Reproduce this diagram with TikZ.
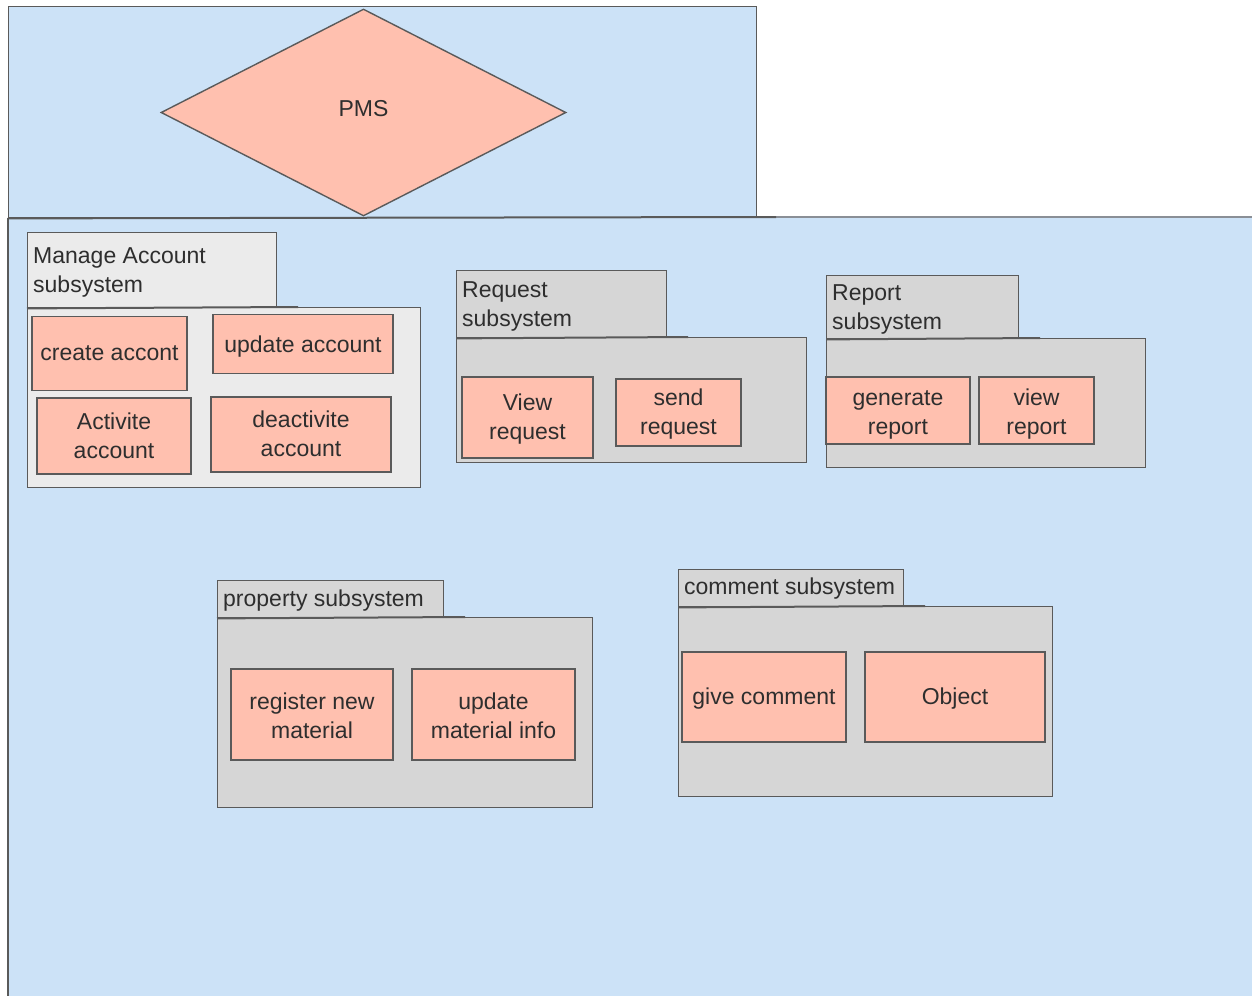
\documentclass[tikz,border=0pt]{standalone}
\usepackage{fontspec}
\setmainfont{Liberation Sans}
\usetikzlibrary{shapes.geometric}
\definecolor{sysblue}{HTML}{CCE2F7}
\definecolor{salmon}{HTML}{FFC0AF}
\definecolor{pkggray}{HTML}{D6D6D6}
\definecolor{pkglight}{HTML}{EBEBEB}
\definecolor{linec}{HTML}{5A5A5A}
\definecolor{linelight}{HTML}{8A8F96}
\definecolor{textc}{HTML}{2E2E2E}
% shift a centred text block vertically without changing its box
\newcommand\lowered[2]{\raisebox{-#1}[\height][\depth]{\begin{tabular}{@{}c@{}}#2\end{tabular}}}
\tikzset{
  border/.style={draw=linec, line width=1.4pt},
  pkgpart/.style={border, fill=pkggray, inner sep=0pt, anchor=north west},
  item/.style={border, fill=salmon, text=textc, align=center, inner sep=0pt},
  tablabel/.style={text=textc, align=left, anchor=west, inner sep=0pt},
  tabedge/.style={draw=linec, line width=2pt},
}
\begin{document}
\begin{tikzpicture}[x=1pt, y=-1pt, font=\fontsize{23}{29}\selectfont]
\useasboundingbox (0,0) rectangle (1252,996);

% outer system package
\path[fill=sysblue] (8,217) rectangle (1252,996);
\node[border, fill=sysblue, anchor=north west, inner sep=0pt,
      minimum width=748pt, minimum height=211pt] (systab) at (8,6) {};
\coordinate (sysbl) at (8,996);
\coordinate (sysend) at (1252,217);
\coordinate (sysext) at (776,217);
\draw[draw=linelight, line width=1.6pt] (sysext) -- (sysend);
\draw[tabedge] (systab.south west) -- (sysext);
\draw[border] (systab.south west) -- (sysbl);
\node[diamond, border, fill=salmon, text=textc, inner sep=0pt,
      minimum width=405pt, minimum height=207pt] (pms) at (363.5,112.5) {\lowered{-2pt}{PMS}};

% Manage Account subsystem
\node[pkgpart, fill=pkglight, minimum width=393pt, minimum height=180pt] (macc) at (27,307) {};
\node[pkgpart, fill=pkglight, minimum width=249pt, minimum height=75pt] (mtab) at (27,232) {};
\coordinate (mext) at (298,307);
\draw[tabedge] (mtab.south west) -- (mext);
\node[tablabel] (mlab) at (33,272) {Manage Account\\subsystem};
\node[item, minimum width=155pt, minimum height=74pt] (create) at (109.5,353.5) {\lowered{1pt}{create accont}};
\node[item, minimum width=180pt, minimum height=59pt] (upd) at (303,344) {\lowered{2.5pt}{update account}};
\node[item, minimum width=154pt, minimum height=76pt] (act) at (114,436) {\lowered{2.5pt}{Activite\\account}};
\node[item, minimum width=180pt, minimum height=75pt] (deact) at (301,434.5) {\lowered{2pt}{deactivite\\account}};

% Request subsystem
\node[pkgpart, minimum width=350pt, minimum height=125pt] (req) at (456,337) {};
\node[pkgpart, minimum width=210pt, minimum height=67pt] (rtab) at (456,270) {};
\coordinate (rext) at (688,337);
\draw[tabedge] (rtab.south west) -- (rext);
\node[tablabel] (rlab) at (462,306.5) {Request\\subsystem};
\node[item, minimum width=131pt, minimum height=81pt] (viewreq) at (527.5,417.5) {\lowered{2pt}{View\\request}};
\node[item, minimum width=125pt, minimum height=67pt] (sendreq) at (678.5,412.5) {\lowered{2pt}{send\\request}};

% Report subsystem
\node[pkgpart, minimum width=319pt, minimum height=129pt] (rep) at (826,338) {};
\node[pkgpart, minimum width=192pt, minimum height=63pt] (ptab) at (826,275) {};
\coordinate (pext) at (1040,338);
\draw[tabedge] (ptab.south west) -- (pext);
\node[tablabel] (plab) at (832,309.5) {Report\\subsystem};
\node[item, minimum width=144pt, minimum height=67pt] (genrep) at (898,410.5) {\lowered{3.5pt}{generate\\report}};
\node[item, minimum width=115pt, minimum height=67pt] (viewrep) at (1036.5,410.5) {\lowered{3.5pt}{view\\report}};

% property subsystem
\node[pkgpart, minimum width=375pt, minimum height=190pt] (prop) at (217,617) {};
\node[pkgpart, minimum width=226pt, minimum height=37pt] (otab) at (217,580) {};
\coordinate (oext) at (465,617);
\draw[tabedge] (otab.south west) -- (oext);
\node[tablabel] (olab) at (223,601) {property subsystem};
\node[item, minimum width=162pt, minimum height=91pt] (regmat) at (312,714.5) {\lowered{4pt}{register new\\material}};
\node[item, minimum width=163pt, minimum height=91pt] (updmat) at (493.5,714.5) {\lowered{4pt}{update\\material info}};

% comment subsystem
\node[pkgpart, minimum width=374pt, minimum height=190pt] (com) at (678,606) {};
\node[pkgpart, minimum width=225pt, minimum height=37pt] (ctab) at (678,569) {};
\coordinate (cext) at (925,606);
\draw[tabedge] (ctab.south west) -- (cext);
\node[tablabel] (clab) at (684,589) {comment subsystem};
\node[item, minimum width=164pt, minimum height=90pt] (givecom) at (764,697) {\lowered{2pt}{give comment}};
\node[item, minimum width=180pt, minimum height=90pt] (obj) at (955,697) {\lowered{2pt}{Object}};
\end{tikzpicture}
\end{document}
